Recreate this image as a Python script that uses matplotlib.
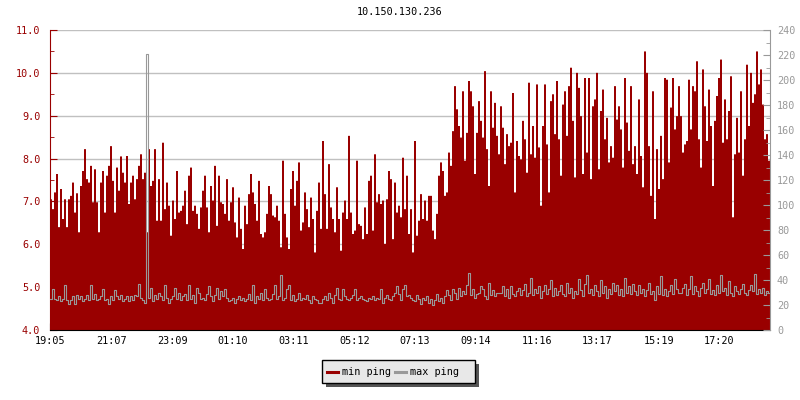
import matplotlib
matplotlib.use("Agg")
import matplotlib.pyplot as plt
import numpy as np
from matplotlib.patches import Rectangle
from matplotlib.lines import Line2D

title = "10.150.130.236"
tick_labels = ["19:05", "21:07", "23:09", "01:10", "03:11", "05:12",
               "07:13", "09:14", "11:16", "13:17", "15:19", "17:20"]
span_minutes = 1436

# min ping (ms, left axis), read left to right
min_ping = (
    [7.05,6.82,7.21,7.64,6.40,7.29,6.59,7.05,6.40,7.05,7.13,7.44,6.74,7.19,6.28,7.36,7.71,8.22,7.52,7.44,
     7.83,6.98,7.75,6.98,6.28,7.44,7.71,6.74,7.60,7.83,8.29,7.48,6.74,7.79,7.25,8.05,7.67,7.44,8.06,6.94,
     7.44,7.60,7.05,7.52,7.83]
    + [8.10,7.52,7.67,6.28,8.22,7.36,7.48,8.22,6.55,7.52,6.55,8.37,6.82,7.44,6.90,6.20,7.02,6.59,7.71,6.74,
       6.78,6.90,7.25,6.47,7.60,7.79,6.78,6.90,6.71,6.36,6.86,7.25,7.60,6.86,6.28,7.36,7.02,7.83,6.43,7.60,
       6.98,6.94,6.71,7.52,6.55]
    + [6.98,7.33,6.51,6.16,7.09,6.36,5.89,6.90,6.47,7.17,7.64,7.21,6.94,6.55,7.48,6.24,6.16,6.28,6.71,7.36,
       7.17,6.67,6.63,6.90,6.55,5.93,7.95,6.71,6.16,5.89,7.29,7.71,6.90,7.48,7.91,6.32,6.51,7.21,6.82,6.40,
       7.09,6.59,5.81,6.78,7.44]
    + [6.36,8.41,7.17,6.36,7.87,6.86,6.59,6.28,7.33,6.59,5.85,6.74,7.02,6.59,8.53,6.74,6.24,6.32,7.95,6.47,
       6.43,6.12,6.86,6.24,7.48,7.60,6.32,8.10,6.98,7.17,6.94,7.02,6.01,7.05,7.71,7.52,6.12,7.44,6.74,6.90,
       6.63,8.02,6.82,7.60,6.24]
    + [6.82,5.81,8.41,6.20,6.55,7.17,6.59,7.02,6.55,7.13,7.13,6.32,6.12,6.71,7.60,7.91,7.71,7.13,7.21,8.14,
       7.83,8.64,9.69,9.15,8.76,8.49,9.57,7.95,8.60,9.81,9.57,9.22,7.64,8.60,9.34,8.88,8.49,10.04,8.22,7.36,
       9.57,8.72,9.30,8.53,8.10]
    + [9.22,8.72,7.87,8.57,8.29,8.37,9.53,7.21,8.41,8.06,7.98,8.88,8.45,7.67,9.77,8.10,8.76,8.02,9.73,8.26,
       6.90,8.76,9.73,8.33,7.21,9.34,9.50,8.57,9.81,8.45,7.60,9.26,9.57,8.53,9.69,10.12,8.88,7.56,10.0,9.65,
       8.99,7.64,9.88,8.14,9.88]
    + [7.52,9.22,9.38,10.0,7.75,9.11,9.61,8.45,8.95,7.91,8.29,8.02,9.69,8.91,9.22,8.68,7.79,9.88,8.84,8.18,
       9.69,7.87,8.29,7.64,9.38,8.06,7.33,10.50,10.0,8.29,7.13,9.57,6.59,8.22,7.29,8.53,7.52,9.88,9.84,7.91,
       9.19,9.88,8.68,8.99,9.69]
    + [8.99,8.14,8.33,8.41,9.84,8.68,9.69,9.57,10.27,8.45,7.79,10.08,9.22,8.41,9.61,8.76,7.36,8.88,9.46,9.88,
       10.31,8.37,9.38,8.45,9.11,9.92,6.63,8.10,8.95,8.14,9.57,7.60,8.45,10.19,8.76,10.0,9.30,9.50,10.50,9.73,
       10.08,9.26,8.45,8.57,7.95]
)

# max ping (ms, right axis)
max_ping = (
    [25,33,25,24,27,23,25,36,24,21,24,27,21,28,25,27,23,25,28,24,36,25,29,24,25,27,33,24,25,21,
     27,24,32,27,25,28,23,25,27,23,27,24,28,27,37]
    + [26,24,22,221,26,34,23,28,25,30,27,24,36,26,22,25,27,34,25,30,24,27,29,24,36,25,28,22,34,30,
       25,26,24,29,35,27,23,28,34,25,31,27,33,26,23]
    + [24,26,22,25,27,24,26,23,25,29,24,36,22,27,25,30,24,33,26,24,25,29,36,25,27,44,24,26,33,36,
       24,28,23,25,30,24,26,25,28,24,22,27,25,24,22]
    + [22,25,27,24,30,26,22,28,34,25,24,33,27,25,24,26,28,33,24,26,27,25,24,23,26,25,27,24,26,25,
       33,22,26,28,25,24,27,30,35,29,24,33,36,27,28]
    + [26,24,23,28,25,21,26,24,27,22,25,20,24,29,23,26,22,27,32,28,24,33,30,25,34,27,31,29,36,46,
       28,33,26,29,30,35,33,27,25,38,28,32,27,30,30]
    + [30,35,27,33,26,35,29,27,31,34,28,32,37,27,30,42,28,33,30,35,26,31,36,29,33,40,27,34,28,31,
       36,29,27,38,30,34,26,31,29,41,32,27,37,44,30]
    + [33,28,36,31,27,40,30,35,26,33,29,38,31,36,28,33,27,42,30,35,29,37,31,28,36,30,33,27,32,38,
       29,31,24,35,29,43,28,33,27,31,36,29,41,33,30]
    + [30,34,37,28,33,43,29,35,31,27,34,38,30,33,41,29,32,28,36,30,44,31,34,28,39,30,27,35,31,29,
       33,37,30,28,32,36,31,45,29,33,30,34,28,31,30]
)

RED = "#990000"
GRAY = "#999999"
FONT = "DejaVu Sans Mono"
FS = 7.3

def minutes(label):
    h, m = map(int, label.split(":"))
    t = h * 60 + m
    t0 = 19 * 60 + 5
    return (t - t0) % 1440

fig = plt.figure(figsize=(8, 4), dpi=100)
ax = fig.add_axes([50/800, 70/400, 720/800, 300/400])
ax2 = ax.twinx()

# min ping area
mn = np.asarray(min_ping)
xm = np.linspace(0, span_minutes, len(mn) + 1)
ym = np.append(mn, mn[-1])
ax.fill_between(xm, 0, ym, step="post", color=RED, lw=0, zorder=2)

# max ping step line
mx = np.asarray(max_ping, dtype=float)
xx = np.linspace(0, span_minutes, len(mx) + 1)
yx = np.append(mx, mx[-1])
ax2.step(xx, yx, where="post", color=GRAY, lw=0.8, zorder=3)

ax.set_xlim(0, span_minutes)
ax.set_ylim(4.0, 11.0)
ax2.set_ylim(0, 240)

ax.set_axisbelow(True)
ax.set_yticks(np.arange(4.0, 11.01, 1.0))
ax.set_yticks(np.arange(4.5, 11.0, 1.0), minor=True)
ax.set_yticklabels([f"{v:.1f}" for v in np.arange(4.0, 11.01, 1.0)])
ax.grid(axis="y", which="major", color="#c0c0c0", lw=1.0, zorder=0)

ax.set_xticks([minutes(l) for l in tick_labels])
ax.set_xticklabels(tick_labels)

ax2.set_yticks(np.arange(0, 241, 20))
ax2.set_yticks(np.arange(10, 240, 20), minor=True)

for a in (ax, ax2):
    a.spines["top"].set_visible(False)

ax.spines["left"].set_color(RED)
ax.spines["bottom"].set_color("black")
ax.spines["right"].set_visible(False)
ax2.spines["left"].set_visible(False)
ax2.spines["bottom"].set_visible(False)
ax2.spines["right"].set_color(GRAY)

ax.tick_params(axis="y", which="major", direction="in", length=5, color=RED,
               labelcolor=RED, labelsize=FS, pad=7)
ax.tick_params(axis="y", which="minor", direction="in", length=3, color=RED)
ax.tick_params(axis="x", direction="in", length=5, color="black",
               labelcolor="black", labelsize=FS, pad=4)
ax2.tick_params(axis="y", which="major", direction="in", length=5, color=GRAY,
                labelcolor=GRAY, labelsize=FS, pad=5)
ax2.tick_params(axis="y", which="minor", direction="in", length=3, color=GRAY)

for lab in ax.get_xticklabels() + ax.get_yticklabels() + ax2.get_yticklabels():
    lab.set_fontfamily(FONT)

fig.text(0.5, 1 - 12/400, title, ha="center", va="center",
         fontsize=FS, fontfamily=FONT, color="black")

# legend box with shadow (figure pixel coordinates)
def px(x, y):
    return x / 800, 1 - y / 400

lx0, ly0, lx1, ly1 = 322, 360, 475, 383
sx, sy = px(lx0 + 4, ly1 + 4)
fig.add_artist(Rectangle((sx, sy), (lx1 - lx0) / 800, (ly1 - ly0) / 400,
                         transform=fig.transFigure, facecolor="#555555",
                         edgecolor="none", zorder=5))
bx, by = px(lx0, ly1)
fig.add_artist(Rectangle((bx, by), (lx1 - lx0) / 800, (ly1 - ly0) / 400,
                         transform=fig.transFigure, facecolor="#e8e8e8",
                         edgecolor="black", lw=1.0, zorder=6))
ymid = 1 - 372 / 400
fig.add_artist(Line2D([327/800, 338/800], [ymid, ymid], transform=fig.transFigure,
                      color=RED, lw=2.2, zorder=7))
fig.text(342/800, ymid, "min ping", ha="left", va="center", fontsize=FS,
         fontfamily=FONT, color="black", zorder=7)
fig.add_artist(Line2D([395/800, 406/800], [ymid, ymid], transform=fig.transFigure,
                      color=GRAY, lw=2.2, zorder=7))
fig.text(410/800, ymid, "max ping", ha="left", va="center", fontsize=FS,
         fontfamily=FONT, color="black", zorder=7)

fig.savefig("out.png", dpi=100, facecolor="white")
